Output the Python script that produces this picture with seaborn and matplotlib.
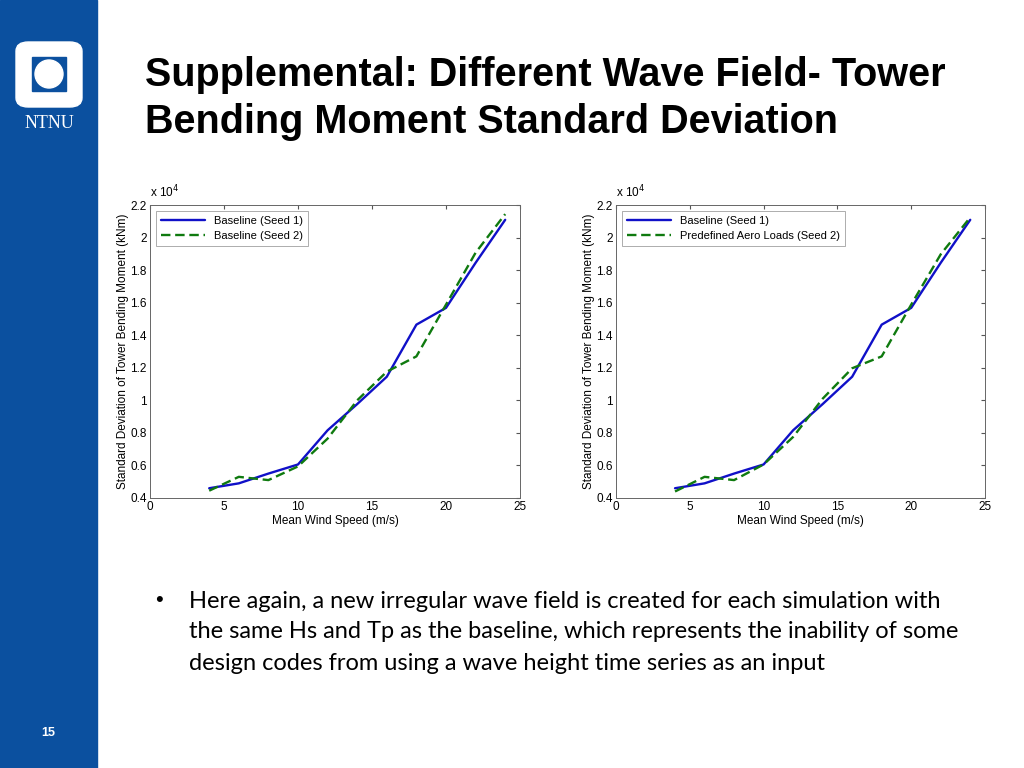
import matplotlib
matplotlib.use("Agg")
import matplotlib.pyplot as plt
import matplotlib.patches as mpatches
import seaborn as sns
import pandas as pd

# Data (values in units of 1e4 kNm)
wind_speed = [4, 6, 8, 10, 12, 14, 16, 18, 20, 22, 24]
left_seed1 = [0.46, 0.49, 0.55, 0.606, 0.816, 0.977, 1.145, 1.465, 1.568, 1.845, 2.109]
left_seed2 = [0.445, 0.53, 0.51, 0.594, 0.765, 1.00, 1.176, 1.27, 1.588, 1.907, 2.144]
right_seed1 = [0.46, 0.49, 0.55, 0.606, 0.816, 0.977, 1.145, 1.465, 1.568, 1.845, 2.109]
right_seed2 = [0.44, 0.53, 0.51, 0.606, 0.775, 1.01, 1.197, 1.27, 1.588, 1.897, 2.124]
left_labels = ["Baseline (Seed 1)", "Baseline (Seed 2)"]
right_labels = ["Baseline (Seed 1)", "Predefined Aero Loads (Seed 2)"]

sns.set_style("white")
plt.rcParams['font.family'] = ['Liberation Sans', 'DejaVu Sans']
plt.rcParams['text.color'] = 'black'
plt.rcParams['axes.labelcolor'] = 'black'
plt.rcParams['xtick.color'] = 'black'
plt.rcParams['ytick.color'] = 'black'

fig = plt.figure(figsize=(10.24, 7.68), dpi=100)

# Slide sidebar with logo and page number
fig.patches.append(mpatches.Rectangle((0, 0), 97 / 1024, 1, transform=fig.transFigure,
                                      color="#0b509f", zorder=0))
fig.patches.append(mpatches.FancyBboxPatch((16 / 1024, 1 - 107 / 768), 66 / 1024, 65 / 768,
                                           boxstyle="round,pad=0,rounding_size=0.012",
                                           transform=fig.transFigure, color="white", zorder=1))
fig.patches.append(mpatches.Rectangle((32 / 1024, 1 - 91 / 768), 34 / 1024, 34 / 768,
                                      transform=fig.transFigure, color="#0b509f", zorder=2))
fig.patches.append(mpatches.Ellipse((49 / 1024, 1 - 74 / 768), 28 / 1024, 28 / 768,
                                    transform=fig.transFigure, color="white", zorder=3))
fig.text(49 / 1024, 1 - 124 / 768, "NTNU", color="white", fontsize=13,
         family=["Liberation Serif", "DejaVu Serif"], ha="center", va="center")
fig.text(48 / 1024, 1 - 733 / 768, "15", color="white", fontsize=9, weight="bold",
         ha="center", va="center")

# Title
fig.text(145 / 1024, 1 - 75 / 768, "Supplemental: Different Wave Field- Tower",
         fontsize=28.5, weight="bold", ha="left", va="center")
fig.text(145 / 1024, 1 - 122 / 768, "Bending Moment Standard Deviation",
         fontsize=28.5, weight="bold", ha="left", va="center")

# Bullet text
fig.text(155 / 1024, 1 - 600 / 768, "•", fontsize=16, ha="left", va="center")
bullet_lines = [
    "Here again, a new irregular wave field is created for each simulation with",
    "the same Hs and Tp as the baseline, which represents the inability of some",
    "design codes from using a wave height time series as an input",
]
for i, line in enumerate(bullet_lines):
    fig.text(189 / 1024, 1 - (601 + 31 * i) / 768, line, fontsize=17,
             family=["Lato", "DejaVu Sans"], ha="left", va="center")


def draw_panel(rect, seed1, seed2, labels):
    ax = fig.add_axes(rect)
    df = pd.DataFrame({"speed": wind_speed, "s1": seed1, "s2": seed2})
    sns.lineplot(data=df, x="speed", y="s1", ax=ax, color="#1010c8", lw=1.7,
                 label=labels[0])
    sns.lineplot(data=df, x="speed", y="s2", ax=ax, color="#0f7a0f", lw=1.7,
                 linestyle=(0, (4, 2)), label=labels[1])
    ax.set_xlim(0, 25)
    ax.set_ylim(0.4, 2.2)
    ax.set_xticks([0, 5, 10, 15, 20, 25])
    ax.set_yticks([0.4, 0.6, 0.8, 1.0, 1.2, 1.4, 1.6, 1.8, 2.0, 2.2])
    ax.set_yticklabels(["0.4", "0.6", "0.8", "1", "1.2", "1.4", "1.6", "1.8", "2", "2.2"])
    ax.tick_params(direction="in", length=3, labelsize=8.5, top=True, right=True,
                   color="#555555", pad=2.5)
    for s in ax.spines.values():
        s.set_color("#666666")
        s.set_linewidth(0.7)
    ax.set_xlabel("Mean Wind Speed (m/s)", fontsize=8.5, labelpad=1)
    ax.set_ylabel("Standard Deviation of Tower Bending Moment (kNm)", fontsize=8.5,
                  labelpad=1)
    ax.text(0, 1.015, "x 10$^4$", transform=ax.transAxes, fontsize=8.5,
            ha="left", va="bottom")
    leg = ax.legend(loc="upper left", fontsize=8, frameon=True, fancybox=False,
                    borderpad=0.45, handlelength=4, labelspacing=0.45,
                    borderaxespad=0.5)
    leg.get_frame().set_edgecolor("#888888")
    leg.get_frame().set_linewidth(0.6)
    return ax


draw_panel([150 / 1024, 1 - 498 / 768, 370 / 1024, 293 / 768],
           left_seed1, left_seed2, left_labels)
draw_panel([616 / 1024, 1 - 498 / 768, 369 / 1024, 293 / 768],
           right_seed1, right_seed2, right_labels)

fig.savefig("out.png", dpi=100)
